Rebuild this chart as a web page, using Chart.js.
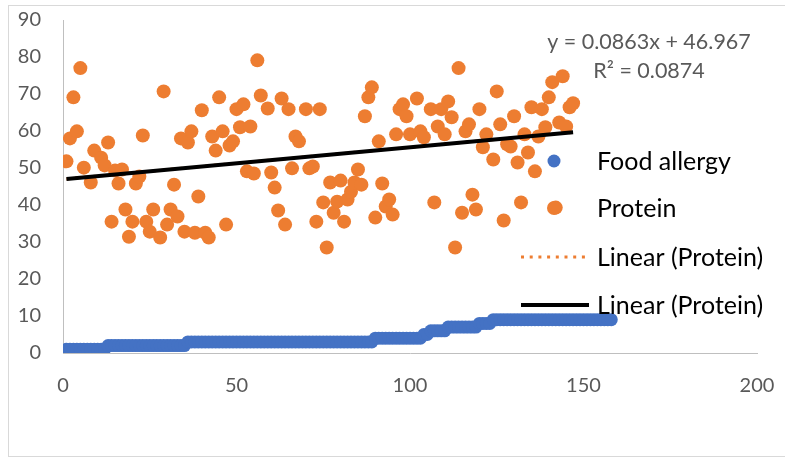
<!DOCTYPE html>
<html>
<head>
<meta charset="utf-8">
<script src="https://cdn.jsdelivr.net/npm/chart.js@4"></script>
<style>
    body { margin: 0; background: #fff; }
    #wrap { width: 785px; height: 459px; }
</style>
</head>
<body>
<div id="wrap"><canvas id="allergyChart" width="785" height="459"></canvas></div>
<script>
// Food allergy values, x is the row number (1..158)
const foodAllergy = [
    1, 1, 1, 1, 1, 1, 1, 1, 1, 1, 1, 1,
    2, 2, 2, 2, 2, 2, 2, 2, 2, 2, 2, 2, 2, 2, 2, 2, 2, 2, 2, 2, 2, 2, 2,
    3, 3, 3, 3, 3, 3, 3, 3, 3, 3, 3, 3, 3, 3, 3, 3, 3, 3, 3, 3, 3, 3, 3, 3, 3, 3, 3,
    3, 3, 3, 3, 3, 3, 3, 3, 3, 3, 3, 3, 3, 3, 3, 3, 3, 3, 3, 3, 3, 3, 3, 3, 3, 3, 3,
    4, 4, 4, 4, 4, 4, 4, 4, 4, 4, 4, 4, 4, 4,
    5, 5,
    6, 6, 6, 6, 6,
    7, 7, 7, 7, 7, 7, 7, 7, 7,
    8, 8, 8, 8,
    9, 9, 9, 9, 9, 9, 9, 9, 9, 9, 9, 9, 9, 9, 9, 9, 9, 9, 9, 9, 9, 9, 9, 9, 9, 9, 9,
    9, 9, 9, 9, 9, 9, 9, 9,
];

// Protein points (row number, value)
const proteinX = [
    1, 2, 3, 4, 5, 6, 8, 9, 11, 12, 13, 14, 15, 16, 17, 18, 19, 20, 21, 22, 23, 24, 25, 26,
    28, 29, 30, 31, 32, 33, 34, 35, 36, 37, 38, 39, 40, 41, 42, 43, 44, 45, 46, 47, 48, 49,
    50, 51, 52, 53, 54, 55, 56, 57, 59, 60, 61, 62, 63, 64, 65, 66, 67, 68, 70, 71, 72, 73,
    74, 75, 76, 77, 78, 79, 80, 81, 82, 83, 84, 85, 86, 87, 88, 89, 90, 91, 92, 93, 94, 95,
    96, 97, 98, 99, 100, 102, 103, 104, 106, 107, 108, 109, 110, 111, 112, 113, 114, 115,
    116, 117, 118, 119, 120, 121, 122, 124, 125, 126, 127, 128, 129, 130, 131, 132, 133,
    134, 135, 136, 137, 138, 139, 140, 141, 142, 143, 144, 145, 146, 147,
];
const proteinY = [
    51.8, 58.0, 69.1, 59.9, 77.0, 50.1, 46.1, 54.7, 52.8, 50.7, 56.9, 35.5, 49.3, 45.8, 49.6,
    38.8, 31.4, 35.5, 45.8, 47.7, 58.8, 35.5, 32.8, 38.8,
    31.2, 70.7, 34.7, 38.8, 45.5, 36.9, 58.0, 32.8, 56.9, 59.9, 32.5, 42.3, 65.6, 32.5, 31.2,
    58.5, 54.7, 69.1, 59.9, 34.7, 56.1, 57.2,
    65.9, 61.0, 67.2, 49.1, 61.2, 48.5, 79.1, 69.6, 66.1, 48.8, 44.7, 38.5, 68.8, 34.7, 65.9,
    49.9, 58.5, 57.2, 65.9, 49.9, 50.4, 35.5,
    65.9, 40.7, 28.5, 46.1, 37.9, 40.9, 46.6, 35.5, 41.5, 43.6, 46.1, 49.6, 45.5, 64.0, 69.1,
    71.8, 36.6, 57.2, 45.8, 39.6, 41.5, 37.4,
    59.1, 65.9, 67.2, 64.0, 59.1, 68.8, 59.9, 58.3, 65.9, 40.7, 61.2, 65.9, 59.1, 68.0, 63.7,
    28.5, 77.0, 37.9,
    59.9, 61.8, 42.8, 38.8, 65.9, 55.6, 59.1, 52.3, 70.7, 61.8, 35.8, 56.4, 55.8, 64.0, 51.5,
    40.7, 59.1,
    54.2, 66.4, 49.1, 58.5, 65.9, 61.0, 69.1, 73.2, 39.3, 62.3, 74.8, 61.2, 66.4, 67.5,
];

// Linear trendline of protein, ends
const trendX = [1, 147];
const trendY = [47.05, 59.65];
const trendLabels = ["y = 0.0863x + 46.967", "R\u00b2 = 0.0874"];

const xTicks = [0, 50, 100, 150, 200];
const yTicks = [0, 10, 20, 30, 40, 50, 60, 70, 80, 90];

const ORANGE = "#ED7D31";
const BLUE = "#4472C4";

const foodPoints = foodAllergy.map((v, i) => ({ x: i + 1, y: v }));
const proteinPoints = proteinX.map((x, i) => ({ x: x, y: proteinY[i] }));
const trendPoints = trendX.map((x, i) => ({ x: x, y: trendY[i] }));

// Excel-like frame, equation and legend drawn by hand
const decorations = {
    id: "decorations",
    beforeDraw(chart) {
        const ctx = chart.ctx;
        ctx.save();
        ctx.strokeStyle = "#d9d9d9";
        ctx.lineWidth = 1;
        ctx.strokeRect(8.5, 5.5, 820, 451);
        ctx.restore();
    },
    afterDraw(chart) {
        const ctx = chart.ctx;
        ctx.save();
        ctx.font = "21.5px Lato";
        ctx.fillStyle = "#595959";
        ctx.textAlign = "center";
        ctx.textBaseline = "middle";
        ctx.fillText(trendLabels[0], 649, 42);
        ctx.fillText(trendLabels[1], 649, 71);

        ctx.font = "25px Lato";
        ctx.fillStyle = "#000";
        ctx.textAlign = "left";
        const items = chart.data.datasets.slice().sort((a, b) => b.order - a.order);
        const rows = [161, 208, 257, 305];
        items.forEach((ds, i) => {
            const y = rows[i];
            if (ds.showLine) {
                ctx.beginPath();
                ctx.strokeStyle = ds.borderColor;
                ctx.lineWidth = ds.borderWidth;
                ctx.setLineDash(ds.borderDash || []);
                ctx.moveTo(521, y);
                ctx.lineTo(589, y);
                ctx.stroke();
                ctx.setLineDash([]);
            } else {
                ctx.beginPath();
                ctx.fillStyle = ds.backgroundColor;
                ctx.arc(554, y, ds.pointRadius, 0, Math.PI * 2);
                ctx.fill();
            }
            ctx.fillStyle = "#000";
            ctx.fillText(ds.label, 597, y + 1);
        });
        ctx.restore();
    },
};

const allergyChart = new Chart(document.getElementById("allergyChart"), {
    type: "scatter",
    data: {
        datasets: [{
                label: "Linear (Protein)",
                data: trendPoints,
                showLine: true,
                borderColor: "#000",
                borderWidth: 4,
                pointRadius: 0,
                order: 0,
            },
            {
                label: "Linear (Protein)",
                data: trendPoints,
                showLine: true,
                borderColor: ORANGE,
                borderWidth: 3,
                borderDash: [3, 5.7],
                pointRadius: 0,
                order: 1,
            },
            {
                label: "Protein",
                data: proteinPoints,
                backgroundColor: ORANGE,
                borderWidth: 0,
                pointRadius: 7,
                order: 2,
            },
            {
                label: "Food allergy",
                data: foodPoints,
                backgroundColor: BLUE,
                borderWidth: 0,
                pointRadius: 6.5,
                order: 3,
            },
        ],
    },
    options: {
        responsive: false,
        animation: false,
        devicePixelRatio: 1,
        layout: {
            padding: { top: 20, right: 28, left: 0, bottom: 0 },
        },
        scales: {
            x: {
                type: "linear",
                min: 0,
                max: 200,
                afterFit: (scale) => {
                    scale.height = 106;
                    scale.paddingLeft = 0;
                    scale.paddingRight = 0;
                },
                afterBuildTicks: (scale) => { scale.ticks = xTicks.map((v) => ({ value: v })); },
                grid: { display: true, drawOnChartArea: false, drawTicks: false },
                border: { display: true, color: "#bfbfbf", width: 1 },
                ticks: {
                    padding: 21,
                    color: "#595959",
                    font: { family: "Lato", size: 20 },
                },
            },
            y: {
                type: "linear",
                min: 0,
                max: 90,
                afterFit: (scale) => {
                    scale.width = 63;
                    scale.paddingTop = 0;
                    scale.paddingBottom = 0;
                },
                afterBuildTicks: (scale) => { scale.ticks = yTicks.map((v) => ({ value: v })); },
                grid: { display: true, drawOnChartArea: false, drawTicks: false },
                border: { display: true, color: "#bfbfbf", width: 1 },
                ticks: {
                    padding: 22,
                    color: "#595959",
                    font: { family: "Lato", size: 20 },
                },
            },
        },
        plugins: {
            legend: { display: false },
            tooltip: { enabled: false },
        },
    },
    plugins: [decorations],
});
</script>
</body>
</html>
